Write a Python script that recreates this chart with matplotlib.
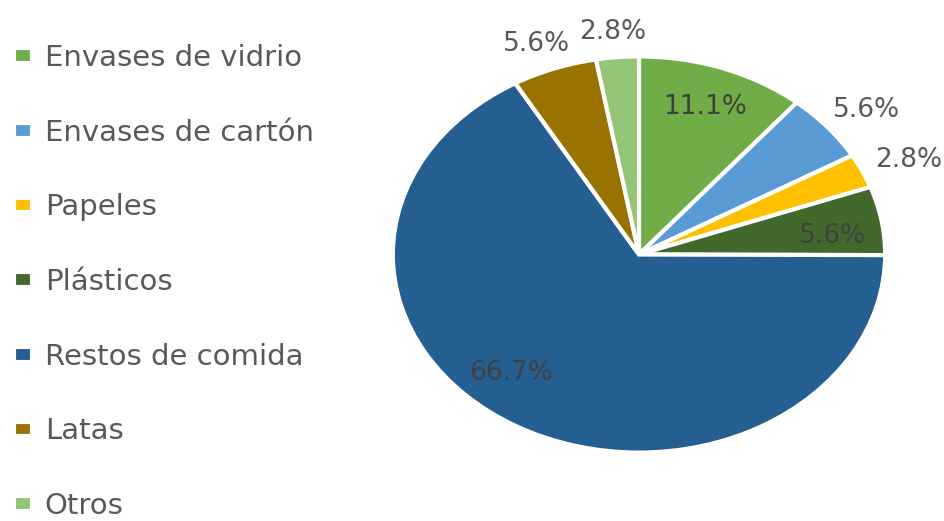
import matplotlib.pyplot as plt
import numpy as np

# waste composition (percent)
categories = ["Envases de vidrio", "Envases de cartón", "Papeles", "Plásticos",
              "Restos de comida", "Latas", "Otros"]
shares = [11.1, 5.6, 2.8, 5.6, 66.7, 5.6, 2.8]
label_inside = [True, False, False, True, True, False, False]
# small angular nudges (degrees) for the inside labels
label_nudge = [0, 0, 0, -3, -11, 0, 0]

colors = ["#70AD47", "#5B9BD5", "#FFC000", "#43682B", "#255E91", "#997300", "#94C475"]

plt.rcParams['font.family'] = ['DejaVu Sans']

fig = plt.figure(figsize=(9.45, 5.21), dpi=100)
ax = fig.add_axes([319 / 945, 9 / 521, 640 / 945, 515 / 521])

wedges, _ = ax.pie(shares, colors=colors, startangle=90, counterclock=False,
                   wedgeprops=dict(edgecolor="white", linewidth=3))
# the chart is stretched wider than tall
ax.set_aspect("auto")
ax.set_xlim(-1.3, 1.3)
ax.set_ylim(-1.3, 1.3)

for w, v, inside, nudge in zip(wedges, shares, label_inside, label_nudge):
    mid = np.deg2rad((w.theta1 + w.theta2) / 2 + nudge)
    if inside:
        x, y = 0.79 * np.cos(mid), 0.79 * np.sin(mid)
        col = "#404040"
    else:
        x, y = 1.21 * np.cos(mid), 1.13 * np.sin(mid)
        col = "#595959"
    ax.text(x, y, f"{v:.1f}%", ha="center", va="center", fontsize=19, color=col)

fig.legend(wedges, categories, loc="upper left", bbox_to_anchor=(14 / 945, 1 - 44 / 521),
           frameon=False, fontsize=21, labelcolor="#595959", borderpad=0, borderaxespad=0,
           handlelength=0.6, handleheight=0.4, handletextpad=0.45, labelspacing=1.6)

fig.savefig("out.png", dpi=100)
